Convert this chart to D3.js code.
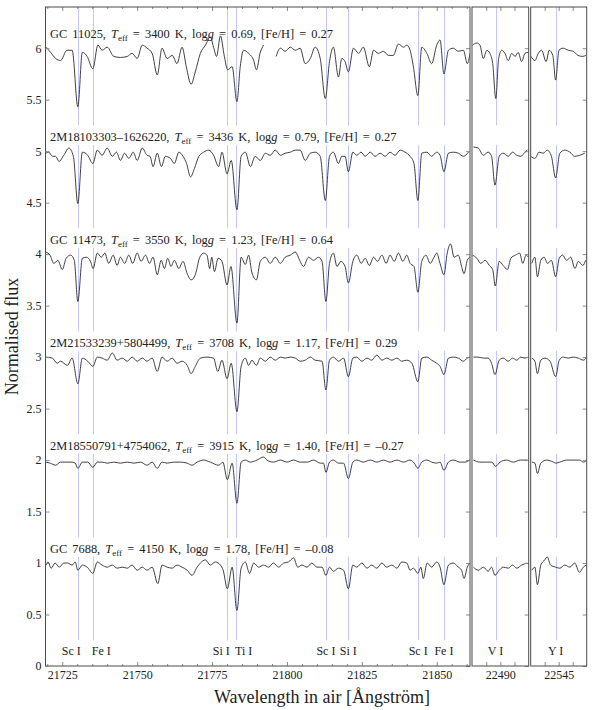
<!DOCTYPE html>
<html>
<head>
<meta charset="utf-8">
<script src="https://cdn.jsdelivr.net/npm/d3@7"></script>
<style>
  body { margin: 0; background: #fff; }
  svg { font-family: "Liberation Serif", "DejaVu Serif", serif; }
</style>
</head>
<body>
<div id="chart"></div>
<script>
// stars, top to bottom
const starNames = ["GC 11025", "2M18103303–1626220", "GC 11473", "2M21533239+5804499", "2M18550791+4754062", "GC 7688"];
const teffs = [3400, 3436, 3550, 3708, 3915, 4150];
const loggs = ["0.69", "0.79", "1.23", "1.17", "1.40", "1.78"];
const fehs = ["0.27", "0.27", "0.64", "0.29", "–0.27", "–0.08"];
const offsets = [5, 4, 3, 2, 1, 0];

// line identifications
const lineWaves = [21730.2, 21735.2, 21779.9, 21783.0, 21813.0, 21820.5, 21843.8, 21852.4, 22488.3, 22543.9];
const lineLabels = ["Sc I", "Fe I", "Si I", "Ti I", "Sc I", "Si I", "Sc I", "Fe I", "V I", "Y I"];

// wavelength windows and ticks
const windows = [[21719.4, 21861.1], [22480, 22500], [22535, 22555]];
const mainTicks = [21725, 21750, 21775, 21800, 21825, 21850];
const mainMinor = d3.range(21720, 21861, 5);
const windowTicks = [[22485, 22490, 22495], [22540, 22545, 22550]];
const windowLabels = [22490, 22545];
const yTicks = [0, 0.5, 1, 1.5, 2, 2.5, 3, 3.5, 4, 4.5, 5, 5.5, 6];

// spectra: [wavelength, normalised flux], null = gap
const gc11025 = [
  [21719.6,1.01],[21721.1,0.96],[21722.8,0.90],[21724.4,0.88],[21726.6,0.98],[21728.3,0.98],[21730.2,0.43],
  [21731.7,0.96],[21733.3,0.92],[21735.2,0.80],[21736.9,1.03],[21738.3,0.98],[21740.0,1.01],[21742.2,0.92],
  [21744.4,0.91],[21746.7,0.92],[21748.3,0.95],[21750.0,0.90],[21751.7,1.03],[21753.3,1.00],[21755.0,0.95],
  [21756.7,0.74],[21758.3,1.00],[21760.0,0.90],[21761.7,0.93],[21763.3,0.85],[21765.0,1.01],[21766.4,0.82],
  [21768.0,0.65],[21769.4,0.77],[21771.1,0.95],[21772.8,1.03],[21774.4,1.11],[21775.5,1.01],[21776.5,0.92],
  [21777.8,1.12],[21779.1,0.92],[21780.2,0.79],[21781.7,0.82],[21783.3,0.48],[21784.4,0.82],[21785.5,0.98],
  [21787.2,0.95],[21788.9,0.88],[21789.8,0.79],[21791.1,0.96],[21792.2,1.03],null,
  [21796.4,0.92],[21797.8,1.00],[21799.4,0.97],[21801.1,1.01],[21802.8,0.98],[21804.4,1.00],[21806.1,0.85],
  [21807.8,0.90],[21809.4,1.01],[21811.1,0.90],[21812.8,0.51],[21814.2,0.87],[21815.5,1.01],[21817.2,0.72],
  [21818.3,0.90],[21819.4,0.87],[21820.5,0.77],[21822.2,1.00],[21823.9,0.95],[21825.5,1.01],[21827.5,0.82],
  [21828.9,0.98],[21830.5,0.95],[21832.2,0.97],[21833.9,0.93],[21835.5,0.93],[21837.2,1.04],[21838.9,1.01],
  [21840.0,1.03],[21841.1,0.98],[21842.2,0.82],[21843.7,0.54],[21845.0,1.01],[21846.7,0.95],[21848.3,0.85],
  [21850.0,1.03],[21851.1,1.08],[21852.4,0.75],[21853.9,0.98],[21855.5,1.00],[21857.2,0.97],[21858.9,0.98],
  [21860.2,0.85],[21861.1,0.95],
  [22480.2,1.03],[22481.7,1.05],[22482.8,1.03],[22484.0,0.90],[22485.2,0.98],[22486.3,0.95],[22487.3,0.85],
  [22488.4,0.51],[22489.4,0.90],[22490.5,0.98],[22491.6,0.95],[22492.8,0.88],[22494.0,0.95],[22495.2,0.92],
  [22496.3,0.96],[22497.5,0.87],[22498.7,0.95],[22499.9,0.96],
  [22535.1,0.92],[22536.5,0.88],[22537.7,0.95],[22538.9,0.98],[22540.5,0.87],[22541.6,0.98],[22542.9,0.93],
  [22543.9,0.69],[22545.1,0.98],[22546.6,1.00],[22548.4,0.98],[22550.2,0.97],[22551.9,0.93],[22553.5,0.92],
  [22554.7,0.93]
];

const m18103303 = [
  [21719.6,0.98],[21720.5,0.99],[21721.7,0.95],[21722.8,0.95],[21723.9,0.90],[21725.5,0.96],[21727.2,1.03],
  [21728.7,0.95],[21730.2,0.49],[21731.7,0.99],[21733.5,0.96],[21735.2,0.88],[21736.7,1.01],[21738.3,0.96],
  [21740.0,1.03],[21741.7,0.95],[21743.1,0.99],[21744.4,0.91],[21745.8,0.98],[21747.2,0.93],[21748.7,0.99],
  [21750.0,0.91],[21751.7,1.03],[21753.3,0.96],[21754.3,0.95],[21755.3,0.85],[21756.7,0.98],[21758.1,0.85],
  [21759.4,0.95],[21761.1,0.93],[21762.4,0.88],[21763.9,0.99],[21765.3,0.95],[21766.5,0.88],[21767.8,0.75],
  [21769.1,0.83],[21770.6,0.95],[21772.2,0.99],[21773.9,1.01],[21775.5,0.96],[21777.2,0.85],[21778.3,0.99],
  [21780.0,0.78],[21781.4,0.91],[21783.3,0.43],[21784.7,0.95],[21786.1,0.99],[21787.8,0.85],[21789.4,0.95],
  [21791.1,0.91],[21792.8,0.98],[21794.4,0.96],[21796.1,1.01],[21797.8,0.96],[21799.4,0.98],[21801.1,0.99],
  [21802.8,1.01],[21804.4,1.01],[21806.1,0.91],[21807.8,0.98],[21809.4,0.99],[21811.1,0.95],[21812.8,0.52],
  [21814.2,0.95],[21815.5,0.99],[21817.2,0.88],[21818.3,0.95],[21819.4,0.95],[21820.5,0.80],[21822.0,0.99],
  [21823.3,0.96],[21824.7,0.99],[21826.1,0.95],[21827.8,0.99],[21829.4,0.95],[21831.1,0.98],[21832.8,0.95],
  [21834.4,0.99],[21836.1,0.96],[21837.8,1.01],[21839.4,0.99],[21841.1,0.95],[21842.4,0.88],[21843.7,0.52],
  [21845.0,0.98],[21846.7,0.99],[21848.3,0.95],[21850.0,0.99],[21851.1,0.96],[21852.4,0.80],[21853.9,0.98],
  [21855.5,0.99],[21857.2,0.98],[21858.9,0.95],[21860.6,0.99],
  [22480.5,1.04],[22482.2,1.03],[22484.0,0.96],[22485.7,0.99],[22486.9,0.95],[22488.1,0.67],[22489.6,0.95],
  [22491.0,0.98],[22492.8,0.95],[22494.3,0.99],[22495.8,0.96],[22497.2,0.95],[22498.7,0.99],[22499.5,1.01],
  [22535.0,0.95],[22536.5,0.93],[22538.0,0.99],[22539.5,0.98],[22540.9,1.01],[22542.4,0.95],[22543.9,0.74],
  [22545.4,0.98],[22547.2,1.01],[22549.0,0.99],[22550.7,0.95],[22552.5,0.96],[22554.3,0.98]
];

const gc11473 = [
  [21719.6,1.02],[21720.9,0.99],[21722.2,0.91],[21723.5,0.94],[21725.0,0.85],[21726.3,0.96],[21727.8,0.99],
  [21729.0,0.94],[21730.2,0.54],[21731.7,0.96],[21733.1,0.97],[21734.4,0.93],[21735.3,0.86],[21736.7,1.01],
  [21738.0,0.97],[21739.2,1.01],[21740.5,0.91],[21742.0,0.99],[21743.3,0.89],[21744.4,0.97],[21745.8,0.91],
  [21747.2,0.99],[21748.5,0.91],[21750.0,1.01],[21751.3,0.93],[21752.8,0.99],[21754.1,0.91],[21755.3,0.97],
  [21756.7,0.80],[21758.0,0.94],[21759.1,0.86],[21760.2,0.96],[21761.3,0.88],[21762.4,0.94],[21763.9,0.86],
  [21765.3,0.93],[21766.7,0.81],[21768.0,0.75],[21769.4,0.80],[21770.9,0.97],[21772.2,1.01],[21773.3,0.99],
  [21774.2,0.86],[21774.9,0.97],[21775.8,0.83],[21777.0,0.96],[21778.3,0.93],[21780.0,0.70],[21781.3,0.88],
  [21783.3,0.33],[21784.7,0.97],[21786.1,0.90],[21787.2,0.99],[21788.3,0.82],[21789.8,0.75],[21791.1,0.93],
  [21792.8,0.97],[21794.4,0.91],[21796.1,0.97],[21797.8,0.91],[21799.4,0.97],[21801.1,0.99],[21802.8,1.02],
  [21804.4,0.93],[21805.5,0.88],[21807.2,0.97],[21808.9,0.94],[21810.5,0.97],[21811.7,0.93],[21813.0,0.54],
  [21814.2,0.91],[21815.5,1.01],[21816.7,0.88],[21818.0,0.93],[21819.4,0.88],[21820.5,0.72],[21822.0,0.93],
  [21823.3,0.99],[21824.8,0.91],[21826.1,0.96],[21827.5,0.89],[21828.9,0.97],[21830.2,0.93],[21831.7,0.99],
  [21833.1,0.91],[21834.4,0.99],[21835.8,0.93],[21837.2,1.01],[21838.7,0.93],[21840.0,0.99],[21841.1,0.91],
  [21842.4,0.88],[21843.7,0.63],[21845.0,0.93],[21846.4,0.99],[21847.8,0.91],[21849.1,0.97],[21850.0,1.01],
  [21851.1,0.91],[21852.4,0.80],[21853.5,1.01],[21854.6,1.10],[21855.8,0.97],[21857.2,0.99],[21858.3,0.88],
  [21859.1,0.81],[21860.2,0.94],[21861.0,0.97],
  [22480.2,0.99],[22481.7,0.96],[22483.1,0.91],[22484.6,0.94],[22486.1,0.89],[22487.3,0.85],[22488.2,0.69],
  [22489.6,0.93],[22491.0,0.89],[22492.5,0.85],[22493.7,0.96],[22495.3,0.99],[22496.8,1.01],[22497.9,0.91],
  [22499.1,0.99],[22499.9,0.97],
  [22535.4,0.91],[22536.5,0.97],[22537.4,0.78],[22538.6,0.94],[22539.8,0.97],[22541.0,0.91],[22542.4,0.94],
  [22543.9,0.78],[22545.2,0.96],[22546.4,0.99],[22547.8,0.94],[22549.3,0.97],[22550.8,0.86],[22552.0,0.93],
  [22553.6,0.89],[22554.6,0.94]
];

const m21533239 = [
  [21719.6,1.00],[21721.7,0.99],[21723.3,0.94],[21724.4,0.96],[21726.7,0.92],[21728.3,0.99],[21730.2,0.74],
  [21731.7,0.99],[21733.5,0.96],[21735.2,0.91],[21736.7,1.00],[21738.3,0.99],[21740.0,0.97],[21741.7,1.04],
  [21743.3,0.97],[21745.0,0.99],[21746.7,0.96],[21748.3,1.00],[21750.0,0.96],[21751.7,0.99],[21753.3,0.96],
  [21755.0,0.99],[21756.7,0.86],[21758.3,1.00],[21760.0,0.96],[21761.7,0.99],[21763.3,0.94],[21765.0,0.96],
  [21766.7,0.92],[21768.0,0.84],[21769.4,0.91],[21771.1,0.99],[21773.3,1.00],[21775.5,0.99],[21776.9,0.86],
  [21778.3,0.97],[21780.0,0.79],[21781.4,0.94],[21783.3,0.47],[21784.7,0.91],[21786.1,0.99],[21787.2,0.92],
  [21788.3,0.97],[21789.8,0.92],[21791.1,0.99],[21792.8,0.96],[21794.4,1.00],[21796.1,0.97],[21797.8,1.00],
  [21799.4,0.99],[21801.1,1.00],[21802.8,0.99],[21804.4,0.96],[21806.1,0.97],[21807.8,1.00],[21809.4,0.97],
  [21811.7,0.96],[21813.0,0.68],[21814.2,0.97],[21815.5,1.00],[21817.2,0.96],[21818.9,0.99],[21820.5,0.81],
  [21822.0,0.99],[21823.3,1.00],[21825.0,0.96],[21826.7,0.99],[21828.3,0.97],[21830.0,1.02],[21831.7,0.97],
  [21833.3,0.99],[21835.0,0.97],[21836.7,0.99],[21838.3,0.96],[21840.0,0.97],[21841.7,0.94],[21843.7,0.76],
  [21845.0,0.99],[21846.7,1.00],[21848.3,0.97],[21850.0,0.94],[21851.1,0.91],[21852.4,0.83],[21853.9,0.99],
  [21855.5,1.00],[21857.2,0.99],[21858.9,0.96],[21860.2,0.99],[21861.0,1.00],
  [22480.5,1.00],[22482.2,1.00],[22484.0,0.99],[22485.7,0.99],[22486.9,0.94],[22488.1,0.83],[22489.6,0.97],
  [22491.0,0.99],[22492.8,0.96],[22494.3,0.99],[22495.8,0.97],[22497.2,1.00],[22498.7,0.99],[22499.5,1.00],
  [22535.4,0.99],[22536.5,0.96],[22537.4,0.84],[22538.6,0.97],[22540.1,0.99],[22541.9,0.96],[22543.9,0.81],
  [22545.2,0.97],[22546.6,1.00],[22548.4,0.99],[22550.2,1.00],[22552.0,0.99],[22553.8,0.97],[22554.8,0.99]
];

const m18550791 = [
  [21719.6,0.98],[21721.0,0.97],[21722.8,0.95],[21724.4,0.98],[21726.0,0.98],[21728.3,0.98],[21729.3,0.97],
  [21730.2,0.92],[21731.7,0.98],[21733.5,0.98],[21735.2,0.93],[21736.7,0.98],[21738.3,0.98],[21740.0,0.97],
  [21742.2,0.98],[21744.4,0.97],[21746.7,0.98],[21748.9,0.97],[21751.1,0.98],[21753.3,0.95],[21755.0,0.98],
  [21756.7,0.92],[21758.3,0.98],[21760.0,0.97],[21762.2,0.98],[21764.4,0.98],[21766.7,0.97],[21768.3,0.95],
  [21770.0,0.98],[21772.2,1.00],[21774.4,0.98],[21777.2,0.95],[21778.6,0.98],[21780.1,0.81],[21781.7,0.97],
  [21783.3,0.58],[21784.7,0.98],[21786.1,1.00],[21787.8,0.98],[21790.0,1.00],[21792.2,1.03],[21793.3,1.00],
  [21795.5,0.98],[21797.8,1.00],[21800.0,0.98],[21802.2,1.00],[21804.4,0.98],[21806.7,0.98],[21808.9,1.00],
  [21811.1,0.97],[21812.2,0.97],[21813.0,0.88],[21814.2,0.98],[21815.5,1.00],[21817.2,0.97],[21818.9,0.97],
  [21820.5,0.82],[21822.0,0.98],[21823.3,1.00],[21825.5,0.98],[21827.8,1.00],[21830.0,0.98],[21832.2,1.00],
  [21834.4,0.98],[21836.7,1.00],[21838.9,0.98],[21841.1,1.00],[21842.5,0.97],[21843.7,0.92],[21845.0,0.98],
  [21846.7,1.00],[21848.3,0.98],[21850.0,0.97],[21851.1,0.98],[21852.4,0.90],[21853.9,0.98],[21855.5,1.00],
  [21857.8,0.98],[21859.4,0.98],[21861.0,1.00],
  [22480.5,1.00],[22482.8,0.98],[22485.2,0.98],[22487.0,0.98],[22488.3,0.94],[22489.9,0.98],[22492.2,1.00],
  [22494.6,0.98],[22497.0,1.00],[22499.6,1.00],
  [22535.4,0.98],[22536.5,0.97],[22537.4,0.87],[22538.6,0.97],[22540.7,1.00],[22543.1,0.98],[22543.9,0.97],
  [22545.4,0.98],[22547.8,1.00],[22550.2,1.00],[22552.5,1.00],[22553.8,0.98],[22555.0,1.00]
];

const gc7688 = [
  [21719.6,0.98],[21720.2,1.01],[21721.3,0.95],[21722.6,1.00],[21724.0,0.96],[21725.5,1.00],[21726.7,1.00],
  [21728.3,0.98],[21729.3,1.01],[21730.2,0.93],[21731.7,0.98],[21733.3,0.96],[21735.2,0.90],[21736.7,1.01],
  [21738.3,0.98],[21740.0,0.96],[21741.7,0.98],[21743.3,0.95],[21745.0,0.96],[21746.7,0.95],[21748.3,0.98],
  [21750.0,0.93],[21751.7,0.96],[21753.3,0.93],[21755.0,0.96],[21756.9,0.80],[21758.3,0.98],[21760.0,0.96],
  [21761.7,0.95],[21763.3,0.98],[21765.0,0.96],[21766.7,0.93],[21768.3,0.88],[21770.0,0.96],[21771.1,1.00],
  [21772.8,1.03],[21774.4,0.98],[21776.1,1.01],[21777.8,0.98],[21778.7,0.93],[21780.1,0.75],[21781.7,0.96],
  [21783.3,0.54],[21784.7,0.95],[21786.1,1.01],[21787.5,0.90],[21788.9,1.00],[21790.5,0.96],[21792.2,0.98],
  [21793.9,0.96],[21795.5,1.00],[21797.2,0.96],[21798.9,1.00],[21800.5,1.01],[21802.2,1.05],[21803.6,0.96],
  [21805.0,0.98],[21806.7,0.96],[21808.3,1.00],[21810.0,0.96],[21811.7,0.96],[21813.0,0.88],[21814.2,0.96],
  [21815.5,0.92],[21817.2,0.95],[21818.9,0.93],[21820.5,0.75],[21822.0,0.98],[21823.3,0.96],[21825.0,1.00],
  [21826.7,0.95],[21828.3,0.98],[21830.0,0.95],[21831.7,1.00],[21833.3,0.96],[21835.0,0.98],[21836.7,0.95],
  [21838.3,1.01],[21840.0,1.00],[21841.1,0.93],[21842.2,0.95],[21843.7,0.90],[21844.7,0.96],[21845.5,0.85],
  [21846.8,1.00],[21848.3,0.96],[21850.0,1.01],[21851.1,0.96],[21852.4,0.79],[21853.9,0.98],[21855.5,1.00],
  [21857.2,0.96],[21858.3,0.93],[21859.1,0.85],[21860.2,0.96],[21861.0,1.00],
  [22480.5,0.96],[22482.2,0.93],[22484.0,0.96],[22485.7,0.92],[22486.9,0.96],[22488.1,0.88],[22489.6,0.93],
  [22491.0,0.96],[22492.8,0.95],[22494.3,0.98],[22495.8,0.95],[22497.5,0.98],[22499.5,1.00],
  [22535.4,0.93],[22536.5,0.96],[22537.4,0.79],[22538.6,0.98],[22540.0,1.03],[22540.9,1.06],[22542.1,0.98],
  [22543.9,0.96],[22545.4,0.95],[22547.2,0.98],[22549.0,0.96],[22550.7,1.00],[22552.4,0.91],[22553.8,0.96],
  [22554.8,0.98]
];

const spectra = [gc11025, m18103303, gc11473, m21533239, m18550791, gc7688];

// ---- layout ----
const width = 598, height = 710;
const plotTop = 7, plotBottom = 666;
const panelRanges = [[45.5, 470], [472, 528.7], [530.7, 586.7]];

const svg = d3.select("#chart").append("svg")
  .attr("width", width).attr("height", height);

const y = d3.scaleLinear().domain([0, 6.4]).range([plotBottom, plotTop]);
const xs = windows.map((w, i) => d3.scaleLinear().domain(w).range(panelRanges[i]));

const lineColor = "#c6c6fb";
const tickColor = "#8a8a8a";

const panels = svg.selectAll("g.panel").data(windows).join("g").attr("class", "panel");

panels.each(function (w, i) {
  const x = xs[i];
  const g = d3.select(this);
  g.append("clipPath").attr("id", "clip" + i)
    .append("rect")
    .attr("x", x.range()[0]).attr("y", plotTop)
    .attr("width", x.range()[1] - x.range()[0]).attr("height", plotBottom - plotTop);

  const inner = g.append("g").attr("clip-path", `url(#clip${i})`);

  // line identifications: one segment per spectrum, snapped to the pixel grid
  const here = lineWaves.map((l, k) => k).filter(k => lineWaves[k] >= w[0] && lineWaves[k] <= w[1]);
  const px = k => Math.round(x(lineWaves[k])) + 0.5;
  offsets.forEach((o, s) => {
    const y1 = s === 0 ? 6.4 : o + 1.06;
    const y2 = o + 1 - 0.75;
    inner.append("g").selectAll("line").data(here).join("line")
      .attr("x1", px).attr("x2", px)
      .attr("y1", y(y1)).attr("y2", y(y2))
      .attr("stroke", lineColor).attr("stroke-width", 1);
  });

  // spectra
  const line = d3.line()
    .defined(d => d != null)
    .curve(d3.curveMonotoneX)
    .x(d => x(d[0]))
    .y(d => d.yv);
  spectra.forEach((sp, s) => {
    const pts = sp.map(d => d == null ? null : Object.assign([d[0], d[1]], { yv: y(d[1] + offsets[s]) }))
      .filter(d => d == null || (d[0] >= w[0] - 2 && d[0] <= w[1] + 2));
    inner.append("path")
      .attr("d", line(pts))
      .attr("fill", "none")
      .attr("stroke", "#2b2b2b")
      .attr("stroke-width", 0.9)
      .attr("stroke-linejoin", "round");
  });

  // line labels
  g.append("g").selectAll("text").data(here).join("text")
    .attr("y", y(0.107))
    .attr("font-size", 12)
    .attr("fill", "#222")
    .each(function (k) {
      const near = here.filter(j => j !== k && Math.abs(lineWaves[j] - lineWaves[k]) < 6);
      let anchor = "middle", dx = 0;
      if (near.length) {
        if (lineWaves[near[0]] > lineWaves[k]) { anchor = "end"; dx = 3; }
        else { anchor = "start"; dx = -1; }
      }
      d3.select(this).attr("x", x(lineWaves[k]) + dx).attr("text-anchor", anchor).text(lineLabels[k]);
    });

  // x ticks, bottom and top (inward)
  const major = i === 0 ? mainTicks : windowTicks[i - 1];
  const labelled = i === 0 ? mainTicks : [windowLabels[i - 1]];
  g.append("g").attr("transform", `translate(0,${plotBottom})`)
    .call(d3.axisBottom(x).tickValues(major).tickSize(-4).tickPadding(4.5)
      .tickFormat(d => labelled.includes(d) ? d : ""));
  g.append("g").attr("transform", `translate(0,${plotTop})`)
    .call(d3.axisTop(x).tickValues(major).tickSize(-4).tickFormat(""));
  if (i === 0) {
    const minor = mainMinor.filter(d => !mainTicks.includes(d));
    g.append("g").attr("transform", `translate(0,${plotBottom})`)
      .call(d3.axisBottom(x).tickValues(minor).tickSize(-2).tickFormat(""));
    g.append("g").attr("transform", `translate(0,${plotTop})`)
      .call(d3.axisTop(x).tickValues(minor).tickSize(-2).tickFormat(""));
  }

  // y ticks on the right edge of each window
  g.append("g").attr("transform", `translate(${x.range()[1]},0)`)
    .call(d3.axisRight(y).tickValues(yTicks).tickSize(-4).tickFormat(""));

  // frame
  g.append("rect")
    .attr("x", x.range()[0]).attr("y", plotTop)
    .attr("width", x.range()[1] - x.range()[0]).attr("height", plotBottom - plotTop)
    .attr("fill", "none").attr("stroke", "#4a4a4a").attr("stroke-width", 1);
});

// left y axis
svg.append("g").attr("transform", `translate(${panelRanges[0][0]},0)`)
  .call(d3.axisLeft(y).tickValues(yTicks).tickSize(-4).tickPadding(4).tickFormat(d => String(d)));

svg.selectAll(".domain").remove();
svg.selectAll(".tick line").attr("stroke", tickColor);
svg.selectAll(".tick text").attr("font-size", 12).attr("fill", "#222")
  .attr("font-family", "Liberation Serif, DejaVu Serif, serif");

// star labels
starNames.forEach((name, s) => {
  const t = svg.append("text")
    .attr("x", 50).attr("y", y(offsets[s] + 1.1))
    .attr("font-size", 12.4).attr("word-spacing", 2).attr("fill", "#222");
  t.append("tspan").text(name + ", ");
  t.append("tspan").attr("font-style", "italic").text("T");
  t.append("tspan").attr("font-size", 9).attr("dy", 2.8).text("eff");
  t.append("tspan").attr("dy", -2.8).text(` = ${teffs[s]} K, log`);
  t.append("tspan").attr("font-style", "italic").text("g");
  t.append("tspan").text(` = ${loggs[s]}, [Fe/H] = ${fehs[s]}`);
});

// axis titles
svg.append("text")
  .attr("transform", `translate(18,${(plotTop + plotBottom) / 2}) rotate(-90)`)
  .attr("text-anchor", "middle").attr("font-size", 18).attr("fill", "#222")
  .text("Normalised flux");
svg.append("text")
  .attr("x", 322).attr("y", 703)
  .attr("text-anchor", "middle").attr("font-size", 18).attr("fill", "#222")
  .text("Wavelength in air [Ångström]");
</script>
</body>
</html>
